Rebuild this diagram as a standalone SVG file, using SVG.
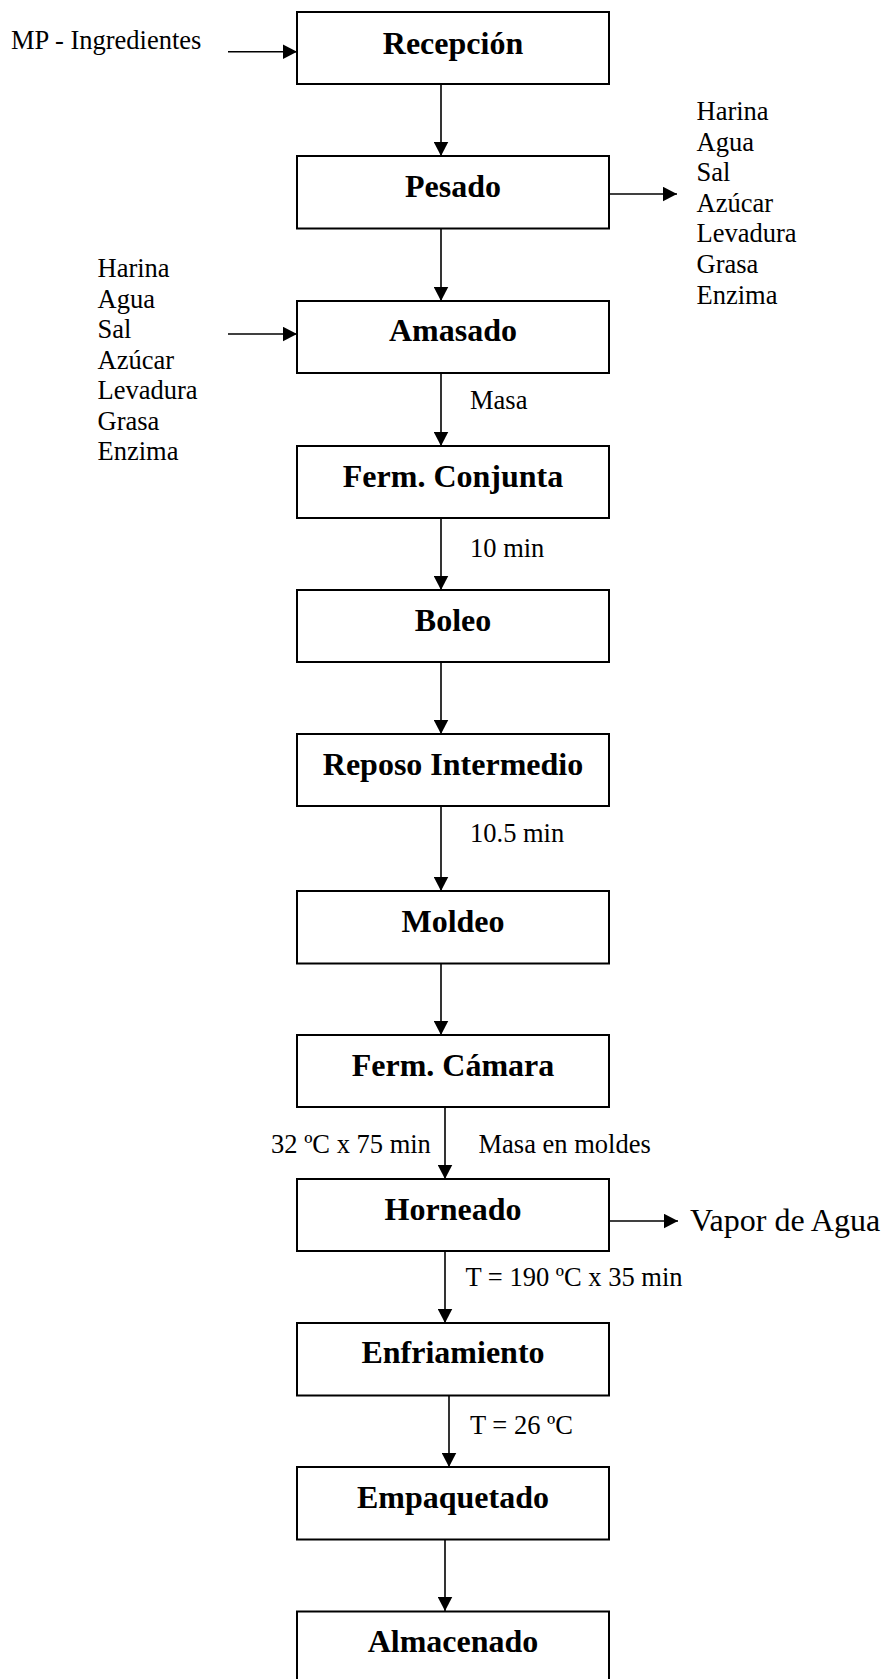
<svg xmlns="http://www.w3.org/2000/svg" width="888" height="1679" viewBox="0 0 888 1679">
  <style>
    .box { fill: #ffffff; stroke: #000000; stroke-width: 2; }
    .title { font-family: "Liberation Serif", "Times New Roman", serif; font-weight: bold; font-size: 32px; fill: #000000; text-anchor: middle; }
    .lbl { font-family: "Liberation Serif", "Times New Roman", serif; font-size: 26.5px; fill: #000000; }
    .big { font-family: "Liberation Serif", "Times New Roman", serif; font-size: 32px; fill: #000000; }
    .conn { stroke: #000000; stroke-width: 1.6; fill: none; marker-end: url(#head); }
  </style>
  <defs>
    <marker id="head" markerUnits="userSpaceOnUse" markerWidth="15" markerHeight="15" refX="14.5" refY="7.5" orient="auto">
      <path d="M0,0 L14.5,7.5 L0,15 Z" fill="#000000"/>
    </marker>
  </defs>
  <rect width="888" height="1679" fill="#ffffff"/>

  <!-- flow connectors -->
  <g id="connectors">
    <line class="conn" x1="228" y1="51.7" x2="297" y2="51.7"/>
    <line class="conn" x1="441" y1="84" x2="441" y2="156"/>
    <line class="conn" x1="610" y1="194" x2="677" y2="194"/>
    <line class="conn" x1="441" y1="229" x2="441" y2="301"/>
    <line class="conn" x1="228" y1="334" x2="297" y2="334"/>
    <line class="conn" x1="441" y1="373" x2="441" y2="446"/>
    <line class="conn" x1="441" y1="518" x2="441" y2="590"/>
    <line class="conn" x1="441" y1="662" x2="441" y2="734"/>
    <line class="conn" x1="441" y1="806" x2="441" y2="891"/>
    <line class="conn" x1="441" y1="963" x2="441" y2="1035"/>
    <line class="conn" x1="445" y1="1107" x2="445" y2="1179"/>
    <line class="conn" x1="610" y1="1221" x2="678" y2="1221"/>
    <line class="conn" x1="445" y1="1251" x2="445" y2="1323"/>
    <line class="conn" x1="449" y1="1395" x2="449" y2="1467"/>
    <line class="conn" x1="445" y1="1539" x2="445" y2="1611"/>
  </g>

  <!-- process steps -->
  <g id="recepcion">
    <rect class="box" x="297" y="12" width="312" height="72"/>
    <text class="title" x="453" y="53.5">Recepción</text>
  </g>
  <g id="pesado">
    <rect class="box" x="297" y="156" width="312" height="72.5"/>
    <text class="title" x="453" y="197">Pesado</text>
  </g>
  <g id="amasado">
    <rect class="box" x="297" y="301" width="312" height="72"/>
    <text class="title" x="453" y="341">Amasado</text>
  </g>
  <g id="ferm-conjunta">
    <rect class="box" x="297" y="446" width="312" height="72"/>
    <text class="title" x="453" y="487">Ferm. Conjunta</text>
  </g>
  <g id="boleo">
    <rect class="box" x="297" y="590" width="312" height="72"/>
    <text class="title" x="453" y="631">Boleo</text>
  </g>
  <g id="reposo-intermedio">
    <rect class="box" x="297" y="734" width="312" height="72"/>
    <text class="title" x="453" y="775">Reposo Intermedio</text>
  </g>
  <g id="moldeo">
    <rect class="box" x="297" y="891" width="312" height="72.5"/>
    <text class="title" x="453" y="932">Moldeo</text>
  </g>
  <g id="ferm-camara">
    <rect class="box" x="297" y="1035" width="312" height="72"/>
    <text class="title" x="453" y="1076">Ferm. Cámara</text>
  </g>
  <g id="horneado">
    <rect class="box" x="297" y="1179" width="312" height="72"/>
    <text class="title" x="453" y="1220">Horneado</text>
  </g>
  <g id="enfriamiento">
    <rect class="box" x="297" y="1323" width="312" height="72.5"/>
    <text class="title" x="453" y="1363">Enfriamiento</text>
  </g>
  <g id="empaquetado">
    <rect class="box" x="297" y="1467" width="312" height="72.5"/>
    <text class="title" x="453" y="1508">Empaquetado</text>
  </g>
  <g id="almacenado">
    <rect class="box" x="297" y="1611.5" width="312" height="72"/>
    <text class="title" x="453" y="1652">Almacenado</text>
  </g>

  <!-- inputs, outputs and conditions -->
  <g id="entrada-mp">
    <text class="lbl" x="11" y="48.5">MP - Ingredientes</text>
  </g>
  <g id="ingredientes-pesados">
    <text class="lbl" x="696.5" y="120">Harina</text>
    <text class="lbl" x="696.5" y="150.6">Agua</text>
    <text class="lbl" x="696.5" y="181.2">Sal</text>
    <text class="lbl" x="696.5" y="211.8">Azúcar</text>
    <text class="lbl" x="696.5" y="242.4">Levadura</text>
    <text class="lbl" x="696.5" y="273">Grasa</text>
    <text class="lbl" x="696.5" y="303.6">Enzima</text>
  </g>
  <g id="ingredientes-amasado">
    <text class="lbl" x="97.5" y="277.3">Harina</text>
    <text class="lbl" x="97.5" y="307.8">Agua</text>
    <text class="lbl" x="97.5" y="338.3">Sal</text>
    <text class="lbl" x="97.5" y="368.8">Azúcar</text>
    <text class="lbl" x="97.5" y="399.3">Levadura</text>
    <text class="lbl" x="97.5" y="429.8">Grasa</text>
    <text class="lbl" x="97.5" y="460.3">Enzima</text>
  </g>
  <g id="condiciones">
    <text class="lbl" x="470" y="408.5">Masa</text>
    <text class="lbl" x="470" y="557">10 min</text>
    <text class="lbl" x="470" y="842">10.5 min</text>
    <text class="lbl" x="271" y="1153">32 ºC x 75 min</text>
    <text class="lbl" x="478.5" y="1153">Masa en moldes</text>
    <text class="big" x="690" y="1231">Vapor de Agua</text>
    <text class="lbl" x="465.5" y="1286">T = 190 ºC x 35 min</text>
    <text class="lbl" x="470" y="1433.5">T = 26 ºC</text>
  </g>
</svg>
